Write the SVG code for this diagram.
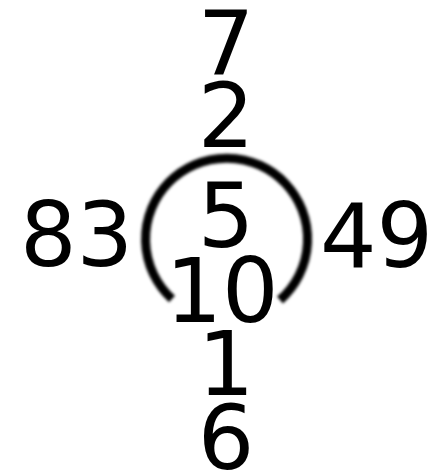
<svg xmlns="http://www.w3.org/2000/svg" width="443" height="471" viewBox="0 0 443 471">
<defs>
<style>
text{font-family:"DejaVu Sans",sans-serif;font-size:89px;fill:#000}
.m{text-anchor:middle}
</style>
<filter id="blur" x="-10%" y="-10%" width="120%" height="120%"><feGaussianBlur stdDeviation="1.8"/></filter>
</defs>
<rect width="443" height="471" fill="#fff"/>
<g id="connectors">
<path id="ring" d="M172 299 A81 81 0 1 1 280 300" fill="none" stroke="#000" stroke-width="9" filter="url(#blur)"/>
</g>
<g id="n7"><text class="m" x="226" y="75">7</text></g>
<g id="n2"><text class="m" x="226" y="147">2</text></g>
<g id="n5"><text class="m" x="226" y="247">5</text></g>
<g id="n10"><text class="m" x="222" y="322">10</text></g>
<g id="n1"><text class="m" x="226" y="395">1</text></g>
<g id="n6"><text class="m" x="226" y="469">6</text></g>
<g id="n83"><text x="20" y="266">83</text></g>
<g id="n49"><text x="320" y="267">49</text></g>
</svg>
